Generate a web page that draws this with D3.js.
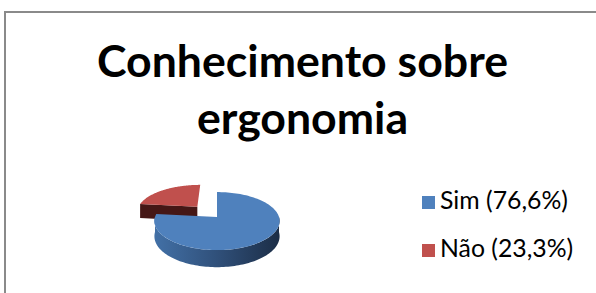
<!DOCTYPE html>
<html><head><meta charset="utf-8">
<script src="https://cdn.jsdelivr.net/npm/d3@7"></script>
<style>html,body{margin:0;padding:0;background:#fff;}svg{display:block;}</style>
</head><body>
<svg id="c" width="596" height="293"></svg>
<script>
const categories = ["Sim", "Não"];
const values = [76.6, 23.3];
const legendLabels = ["Sim (76,6%)", "Não (23,3%)"];
const explode = [0, 0.5];
const titleLines = ["Conhecimento sobre", "ergonomia"];
const topColors = ["#4F81BD", "#C0504D"];
const wallLight = ["#4270a6", "#5a2220"];
const wallMid = ["#30507a", "#501d1c"];
const wallDark = ["#1c2e47", "#451716"];

const svg = d3.select("#c");
const defs = svg.append("defs");
svg.append("rect").attr("x", 5).attr("y", 12).attr("width", 620).attr("height", 320)
  .attr("fill", "#fff").attr("stroke", "#8a8a8a").attr("stroke-width", 2);

// title
const tg = svg.append("g").attr("font-family", "Lato").attr("font-weight", "bold").attr("fill", "#000");
const t1 = tg.append("text").attr("x", 302.5).attr("y", 77).attr("text-anchor", "middle").attr("font-size", 40).text(titleLines[0]);
const w1 = t1.node().getComputedTextLength();
const fs = 40 * 411 / w1;
t1.attr("font-size", fs);
tg.append("text").attr("x", 302.5).attr("y", 134).attr("text-anchor", "middle").attr("font-size", fs).text(titleLines[1]);

// 3D pie
const cx = 217, cy = 217, rx = 62, ry = 29, depth = 15, persp = 0.14;
const pie = d3.pie().sort(null).value(d => d)(values);
function proj(X, Y, z) {
  const s = 1 + persp * Y;
  return [cx + X * rx * s, cy + (Y * ry + z * depth) * s];
}
const angScale = d3.scaleLinear().domain([0, 1]);
const line = d3.line();
const g = svg.append("g");
function slicePts(a0, a1, ox, oy, z, n) {
  const pts = [];
  angScale.range([a0, a1]);
  for (let i = 0; i <= n; i++) {
    const a = angScale(i / n);
    pts.push(proj(Math.sin(a) + ox, -Math.cos(a) + oy, z));
  }
  return pts;
}
const order = [1, 0];
order.forEach(i => {
  const p = pie[i];
  const a0 = p.startAngle, a1 = p.endAngle;
  const mid = (a0 + a1) / 2;
  const ox = Math.sin(mid) * explode[i], oy = -Math.cos(mid) * explode[i];
  const gl = proj(ox - 1, oy, 0)[0], gr = proj(ox + 1, oy, 0)[0];
  const grad = defs.append("linearGradient").attr("id", "wg" + i)
    .attr("gradientUnits", "userSpaceOnUse").attr("x1", gl).attr("x2", gr).attr("y1", 0).attr("y2", 0);
  grad.append("stop").attr("offset", 0).attr("stop-color", wallLight[i]);
  grad.append("stop").attr("offset", 0.5).attr("stop-color", wallMid[i]);
  grad.append("stop").attr("offset", 1).attr("stop-color", wallDark[i]);
  if (Math.sin(a0) < -1e-6) {
    const e = [Math.sin(a0) + ox, -Math.cos(a0) + oy];
    g.append("path").attr("d", line([proj(ox, oy, 0), proj(e[0], e[1], 0), proj(e[0], e[1], 1), proj(ox, oy, 1)]) + "Z")
      .attr("fill", wallDark[i]);
  }
  if (Math.sin(a1) > 1e-6) {
    const e = [Math.sin(a1) + ox, -Math.cos(a1) + oy];
    g.append("path").attr("d", line([proj(ox, oy, 0), proj(e[0], e[1], 0), proj(e[0], e[1], 1), proj(ox, oy, 1)]) + "Z")
      .attr("fill", wallDark[i]);
  }
  const w0 = Math.max(a0, Math.PI / 2), w1 = Math.min(a1, 3 * Math.PI / 2);
  if (w1 > w0) {
    const top = slicePts(w0, w1, ox, oy, 0, 100);
    const bot = slicePts(w0, w1, ox, oy, 1, 100).reverse();
    g.append("path").attr("d", line(top.concat(bot)) + "Z").attr("fill", "url(#wg" + i + ")");
  }
  const arcPts = slicePts(a0, a1, ox, oy, 0, 120);
  g.append("path").attr("d", line([proj(ox, oy, 0)].concat(arcPts)) + "Z").attr("fill", topColors[i]);
});

// legend
const lg = svg.append("g").attr("font-family", "Lato").attr("fill", "#000");
const ly = [209, 257];
legendLabels.forEach((lab, i) => {
  lg.append("rect").attr("x", 422).attr("y", ly[i] - 13).attr("width", 13).attr("height", 13).attr("fill", topColors[i]);
  lg.append("text").attr("x", 440).attr("y", ly[i]).attr("font-size", 19).text(lab);
});
const lw = lg.select("text").node().getComputedTextLength();
lg.selectAll("text").attr("font-size", 19 * 128 / lw);
</script>
</body></html>
